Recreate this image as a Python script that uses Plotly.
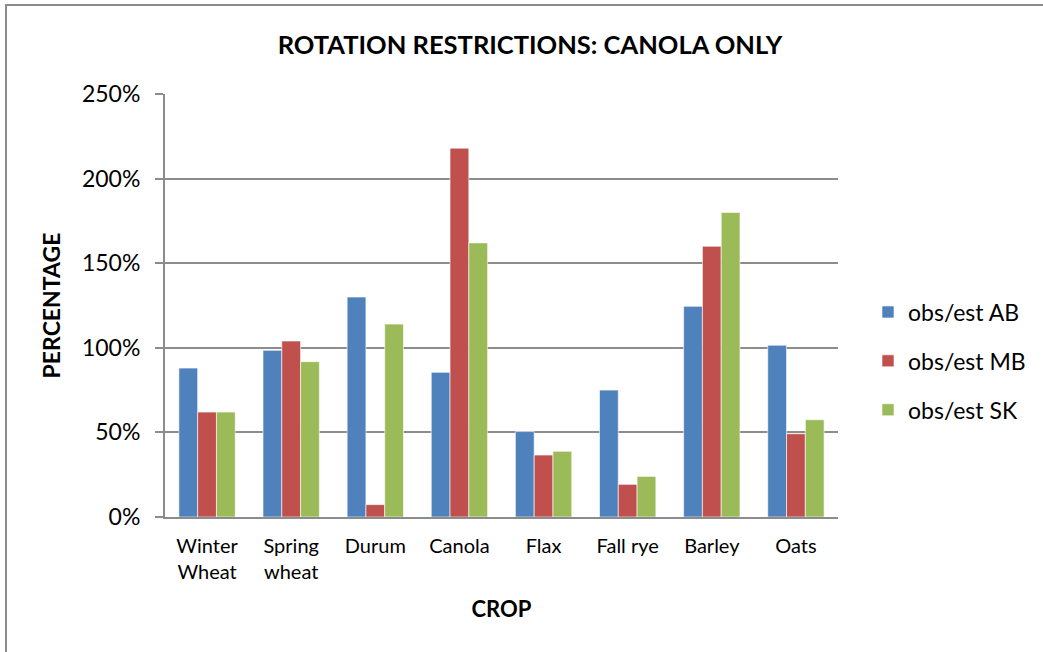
import plotly.graph_objects as go

crops = ["Winter<br>Wheat", "Spring<br>wheat", "Durum", "Canola", "Flax", "Fall rye", "Barley", "Oats"]
series_names = ["obs/est AB", "obs/est MB", "obs/est SK"]
ab = [0.88, 0.985, 1.30, 0.855, 0.505, 0.75, 1.245, 1.015]
mb = [0.62, 1.04, 0.073, 2.18, 0.366, 0.193, 1.60, 0.492]
sk = [0.62, 0.918, 1.14, 1.62, 0.388, 0.24, 1.80, 0.575]
colors = ["#4F81BD", "#C0504D", "#9BBB59"]
y_ticks = [0, 0.5, 1.0, 1.5, 2.0, 2.5]

FONT = "Lato"

fig = go.Figure()
for name, vals, col in zip(series_names, [ab, mb, sk], colors):
    fig.add_trace(go.Bar(
        x=crops, y=vals, name=name, legendgroup=name,
        marker=dict(color=col, line=dict(width=0.6, color="white")),
    ))

# body margin is removed in post_script, so figure px == screen px
W, H = 1043, 652
L, R, T, B = 165, 838, 94, 517


def px(xs):
    return (xs - L) / (R - L)


def py(ys):
    return (B - ys) / (B - T)


# outer chart border (only left and top edges are visible in the frame)
fig.add_shape(type="rect", xref="paper", yref="paper",
              x0=px(6), x1=px(1060), y0=py(5), y1=py(670),
              line=dict(color="#8c8c8c", width=2), layer="below")

fig.update_layout(
    width=W, height=H,
    margin=dict(l=L, r=W - R, t=T, b=H - B),
    paper_bgcolor="white", plot_bgcolor="white",
    barmode="group", bargap=0.33, bargroupgap=0,
    font=dict(family=FONT, color="black", size=20),
    title=dict(text="<b>ROTATION RESTRICTIONS: CANOLA ONLY</b>",
               x=px(530), xanchor="center", xref="paper",
               y=1 - 45 / H, yanchor="middle", font=dict(size=25.5)),
    legend=dict(x=px(868), y=py(361), xanchor="left", yanchor="middle",
                font=dict(size=23), itemwidth=30, tracegroupgap=16,
                traceorder="grouped", bgcolor="rgba(0,0,0,0)"),
    showlegend=True,
)
fig.update_yaxes(
    range=[0, 2.5], tickvals=y_ticks, tickformat=".0%",
    showgrid=True, gridcolor="#8c8c8c", gridwidth=2,
    showline=True, linecolor="#8c8c8c", linewidth=2,
    ticks="outside", ticklen=8, tickcolor="#8c8c8c", tickwidth=2,
    tickfont=dict(size=23), zeroline=False, ticklabelstandoff=10,
    title=dict(text="<b>PERCENTAGE</b>", font=dict(size=23), standoff=15),
)
fig.update_xaxes(
    showline=True, linecolor="#8c8c8c", linewidth=2,
    ticks="", tickfont=dict(size=20), ticklabelstandoff=10,
    title=dict(text="<b>CROP</b>", font=dict(size=22), standoff=20),
)

fig.write_html("out.html", config={"displayModeBar": False},
               post_script="document.body.style.margin='0';")
